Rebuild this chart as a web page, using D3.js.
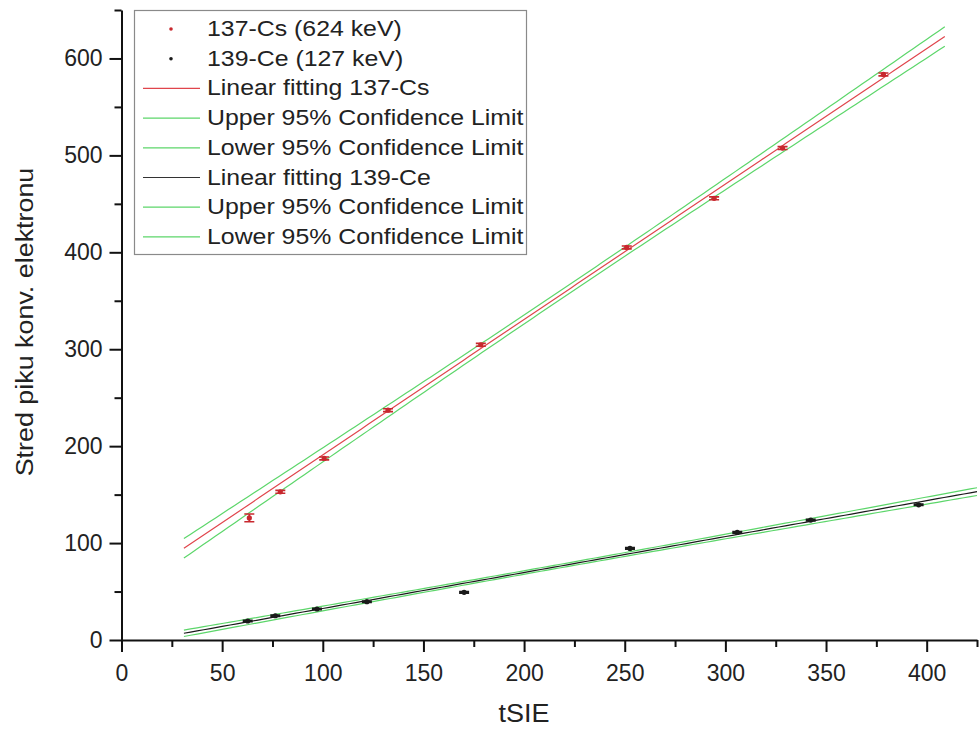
<!DOCTYPE html>
<html>
<head>
<meta charset="utf-8">
<script src="https://cdn.jsdelivr.net/npm/d3@7"></script>
<style>
  html, body { margin: 0; padding: 0; background: #fff; }
  svg { display: block; font-family: "Liberation Sans", Arial, sans-serif; }
</style>
</head>
<body>
<svg id="chart" width="980" height="730"></svg>
<script>
// Measured peak positions of conversion electrons vs. tSIE
const csX   = [63.5, 78.9, 100.7, 132.4, 178.5, 251.0, 294.4, 328.4, 378.5];
const csY   = [126.0, 152.9, 187.3, 237.1, 304.5, 405.0, 455.7, 507.5, 583.5];
const csErr = [4.0, 1.5, 1.5, 1.5, 1.5, 1.5, 1.5, 1.5, 1.5];

const ceX   = [62.7, 76.4, 97.1, 121.9, 170.2, 252.6, 305.9, 342.4, 396.0];
const ceY   = [19.6, 25.0, 32.0, 39.5, 49.2, 94.5, 111.0, 123.7, 139.5];
const ceErr = [0.8, 0.8, 0.8, 0.8, 0.8, 0.8, 0.8, 0.8, 0.8];

// Linear fits: [intercept, slope], fitted x range, and 95% band [x0, half-width at x0, growth]
const csFit      = [51.3, 1.397];
const csFitRange = [31, 409];
const csBand     = [220, 4.5, 0.0475];

const ceFit      = [-4.57, 0.371];
const ceFitRange = [31, 425];
const ceBand     = [203, 1.8, 0.0161];

// Axis ticks
const xTicks = [0, 50, 100, 150, 200, 250, 300, 350, 400];
const xMinor = [25, 75, 125, 175, 225, 275, 325, 375, 425];
const yTicks = [0, 100, 200, 300, 400, 500, 600];
const yMinor = [50, 150, 250, 350, 450, 550, 650];

const legendLabels = [
  "137-Cs (624 keV)",
  "139-Ce (127 keV)",
  "Linear fitting 137-Cs",
  "Upper 95% Confidence Limit",
  "Lower 95% Confidence Limit",
  "Linear fitting 139-Ce",
  "Upper 95% Confidence Limit",
  "Lower 95% Confidence Limit"
];

const RED = "#e0454c", GREEN = "#5cd66a", DARK = "#1a1a1a";

const svg = d3.select("#chart");
const x = d3.scaleLinear().domain([0, 425]).range([121.5, 977]);
const y = d3.scaleLinear().domain([0, 650]).range([640, 10]);

// fit line and confidence limits
function fitValue(fit, xv) { return fit[0] + fit[1] * xv; }
function bandHalf(band, xv) { return Math.sqrt(band[1] * band[1] + Math.pow(band[2] * (xv - band[0]), 2)); }

function drawFit(fit, range, band, lineColor) {
  const xs = d3.range(range[0], range[1] + 0.001, (range[1] - range[0]) / 120);
  const line = d3.line().x(d => x(d[0])).y(d => y(d[1]));
  const g = svg.append("g").attr("fill", "none");
  g.append("path")
    .attr("d", line(xs.map(v => [v, fitValue(fit, v) + bandHalf(band, v)])))
    .attr("stroke", GREEN).attr("stroke-width", 1.2);
  g.append("path")
    .attr("d", line(xs.map(v => [v, fitValue(fit, v) - bandHalf(band, v)])))
    .attr("stroke", GREEN).attr("stroke-width", 1.2);
  g.append("path")
    .attr("d", line(xs.map(v => [v, fitValue(fit, v)])))
    .attr("stroke", lineColor).attr("stroke-width", 1.2);
}
drawFit(csFit, csFitRange, csBand, RED);
drawFit(ceFit, ceFitRange, ceBand, DARK);

// data points with vertical error bars
function drawPoints(xs, ys, errs, color, r) {
  const g = svg.append("g");
  const pts = xs.map((v, i) => ({ x: v, y: ys[i], e: errs[i] }));
  const cap = 5;
  g.selectAll("path.err").data(pts).join("path")
    .attr("class", "err")
    .attr("fill", "none").attr("stroke", color).attr("stroke-width", 1.6)
    .attr("d", d => {
      const cx = x(d.x), t = y(d.y + d.e), b = y(d.y - d.e);
      return `M${cx},${t}V${b}M${cx - cap},${t}H${cx + cap}M${cx - cap},${b}H${cx + cap}`;
    });
  g.selectAll("circle").data(pts).join("circle")
    .attr("cx", d => x(d.x)).attr("cy", d => y(d.y)).attr("r", r)
    .attr("fill", color);
}
drawPoints(csX, csY, csErr, "#c8282e", 2.6);
drawPoints(ceX, ceY, ceErr, DARK, 2.6);

// axes
svg.append("g").attr("transform", `translate(0,${y(0)})`)
  .call(d3.axisBottom(x).tickValues(xTicks).tickSize(12).tickSizeOuter(0).tickPadding(13).tickFormat(d3.format("d")));
svg.append("g").attr("transform", `translate(0,${y(0)})`)
  .call(d3.axisBottom(x).tickValues(xMinor).tickSize(7).tickSizeOuter(0).tickFormat(""))
  .select(".domain").remove();

svg.append("g").attr("transform", `translate(${x(0)},0)`)
  .call(d3.axisLeft(y).tickValues(yTicks).tickSize(12).tickSizeOuter(0).tickPadding(7).tickFormat(d3.format("d")));
svg.append("g").attr("transform", `translate(${x(0)},0)`)
  .call(d3.axisLeft(y).tickValues(yMinor).tickSize(7).tickSizeOuter(0).tickFormat(""))
  .select(".domain").remove();

svg.selectAll(".domain").attr("stroke", "#111").attr("stroke-width", 2);
svg.selectAll(".tick line").attr("stroke", "#111").attr("stroke-width", 2);
svg.selectAll(".tick text").attr("fill", "#222").attr("font-size", 23)
  .attr("font-family", "'Liberation Sans', Arial, sans-serif");

// axis titles
const xMid = (x(0) + x(400)) / 2;
svg.append("text")
  .attr("transform", `translate(${xMid},722) scale(1.08,1)`)
  .attr("text-anchor", "middle").attr("font-size", 25).attr("fill", "#222")
  .text("tSIE");

svg.append("text")
  .attr("transform", "translate(33,322) rotate(-90) scale(1.12,1)")
  .attr("text-anchor", "middle").attr("font-size", 24).attr("fill", "#222")
  .text("Stred piku konv. elektronu");

// legend
const legend = svg.append("g");
legend.append("rect")
  .attr("x", 134.5).attr("y", 10.5).attr("width", 392).attr("height", 244)
  .attr("fill", "#fff").attr("stroke", "#8a8a8a").attr("stroke-width", 1.2);

const rowH = 29.7, base0 = 36;
const legendMarks = [
  { type: "dot", color: "#c8282e" },
  { type: "dot", color: DARK },
  { type: "line", color: RED },
  { type: "line", color: GREEN },
  { type: "line", color: GREEN },
  { type: "line", color: "#333" },
  { type: "line", color: GREEN },
  { type: "line", color: GREEN }
];
legendLabels.forEach((lab, i) => {
  const base = base0 + i * rowH;
  const mid = base - 7;
  const m = legendMarks[i];
  if (m.type === "dot") {
    legend.append("circle").attr("cx", 171).attr("cy", mid).attr("r", 1.8).attr("fill", m.color);
  } else {
    legend.append("line").attr("x1", 143).attr("x2", 200).attr("y1", mid).attr("y2", mid)
      .attr("stroke", m.color).attr("stroke-width", 1.2);
  }
  legend.append("text")
    .attr("transform", `translate(207,${base}) scale(1.13,1)`)
    .attr("font-size", 22).attr("fill", "#222")
    .text(lab);
});
</script>
</body>
</html>
